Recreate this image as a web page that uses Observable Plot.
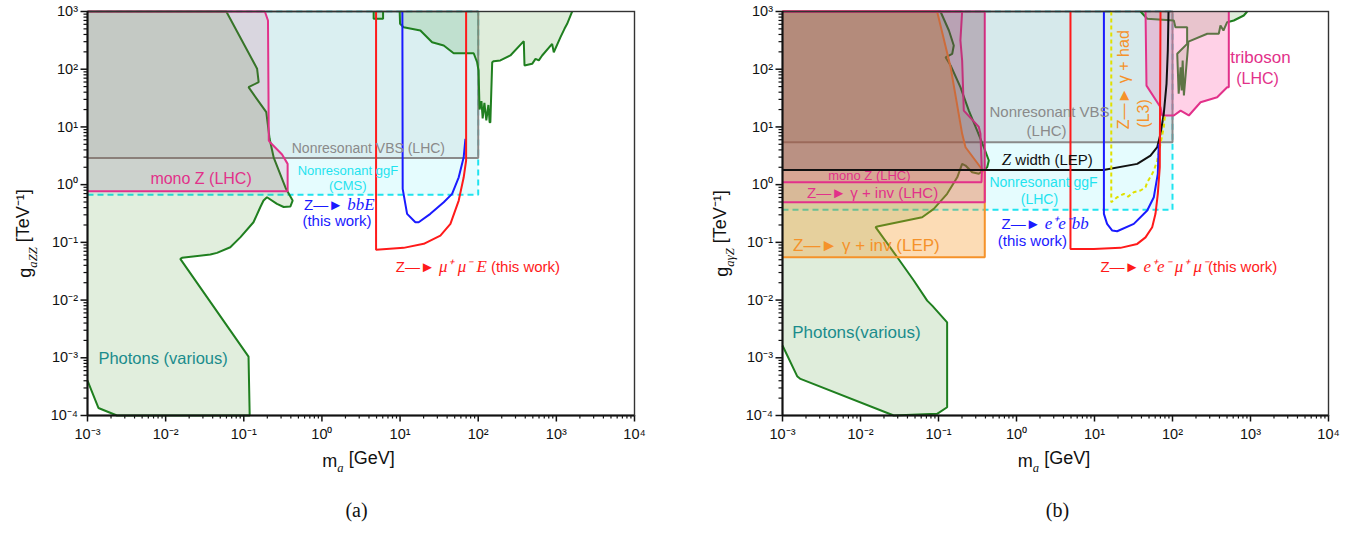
<!DOCTYPE html>
<html><head><meta charset="utf-8">
<script src="https://cdn.jsdelivr.net/npm/d3@7"></script>
<script src="https://cdn.jsdelivr.net/npm/@observablehq/plot@0.6"></script>
<style>
body{margin:0;background:#fff;}
#wrap{display:flex;width:1363px;height:535px;overflow:hidden;}
</style></head><body><div id="wrap"></div>
<script>
// ---------- axis ticks ----------
const decadesX = [1e-3, 1e-2, 1e-1, 1, 10, 100, 1e3, 1e4];
const decadesY = [1e-4, 1e-3, 1e-2, 1e-1, 1, 10, 100, 1e3];

// ---------- panel (a) data : [m_a (GeV), g (TeV^-1)] ----------
const a_ggF = [[1e-3,0.665],[100,0.665],[100,1000],[1e-3,1000]];
const a_VBS = [[1e-3,2.9],[100,2.9],[100,1000],[1e-3,1000]];
const a_monoZ = [[1e-3,0.77],[0.364,0.77],[0.364,2.29],[0.309,3.33],[0.223,5.2],[0.209,5.8],[0.204,698],[0.186,1000],[1e-3,1000]];
const a_photons = [[1e-3,1000],[0.0597,1000],[0.148,102],[0.155,59.6],[0.115,48.8],[0.194,18.0],[0.214,6.22],[0.241,2.98],[0.347,0.846],[0.422,0.530],[0.394,0.417],[0.324,0.41],[0.266,0.465],[0.198,0.605],[0.179,0.53],[0.163,0.41],[0.133,0.223],[0.0902,0.122],[0.0672,0.0822],[0.0454,0.0658],[0.0373,0.0615],[0.0162,0.0539],[0.0154,0.0518],[0.115,0.00105],[0.119,1e-4],[0.00238,1e-4],[0.00138,0.000135],[1e-3,0.000403]];
const a_photonsBox = [[4.59,1000],[4.59,747],[6.06,747],[6.06,1000]];
const a_photonsHigh = [[9.88,1000],[10,612],[11.1,535],[18.2,469],[25.7,294],[36.2,258],[48.5,189],[87.5,189],[96.8,132],[101,95],[104,20],[110,28],[114,14],[120,26],[127,13],[135,24],[140,12],[143,12],[151,132],[158,138],[192,142],[258,173],[383,306],[391,116],[490,124],[541,151],[596,142],[658,173],[883,275],[927,197],[1130,359],[1270,501],[1375,612],[1548,912],[1592,1000]];
const a_mumuE = [[4.93,1000],[4.93,0.0741],[11.1,0.0803],[20.1,0.0942],[32.8,0.131],[44.1,0.209],[56.3,0.53],[65.2,1.34],[70,2.62],[70,1000]];
const a_bbE = [[10.7,1000],[10.8,0.846],[12.3,0.312],[15.7,0.223],[17.3,0.223],[24.4,0.312],[36.2,0.495],[46.3,0.693],[56.3,1.34],[65.2,2.98],[68.6,6.22]];

// ---------- panel (b) data ----------
const b_ggF = [[1e-3,0.366],[100,0.366],[100,1000],[1e-3,1000]];
const b_VBS = [[1e-3,5.43],[100,5.43],[100,1000],[1e-3,1000]];
const b_photons = [[1e-3,1000],[0.106,1000],[0.136,469],[0.157,258],[0.150,185],[0.123,161],[0.143,116],[0.191,48.8],[0.245,19.2],[0.313,8.66],[0.381,4.45],[0.442,2.62],[0.421,2.0],[0.329,1.54],[0.270,1.64],[0.222,2.14],[0.201,2.29],[0.174,1.34],[0.129,0.693],[0.087,0.381],[0.0618,0.272],[0.0164,0.188],[0.0156,0.183],[0.0296,0.0552],[0.0482,0.0218],[0.0716,0.0098],[0.083,0.008],[0.129,0.00412],[0.129,0.000139],[0.096,0.000107],[0.0267,1e-4],[0.0017,0.00043],[0.00154,0.00048],[1e-3,0.00163]];
const b_photonsHigh = [[38.9,1000],[47.4,749],[104,698],[109,535],[154,535],[154,275],[115,185],[120,37.5],[127,108],[131,42.7],[135,142],[140,35],[154,161],[160,300],[279,411],[392,411],[412,572],[450,469],[502,653],[611,698],[820,852],[908,1000]];
const b_invLEP = [[1e-3,0.0552],[0.392,0.0552],[0.392,1.64],[0.345,2.0],[0.222,4.45],[0.201,7.6],[0.143,108],[0.096,1000],[1e-3,1000]];
const b_widthLeft = [[1e-3,1.8],[0.392,1.8],[0.392,1000],[1e-3,1000]];
const b_invLHC = [[1e-3,0.496],[0.392,0.496],[0.392,1000],[1e-3,1000]];
const b_monoZ = [[1e-3,1.1],[0.356,1.1],[0.36,1.64],[0.345,7.6],[0.329,10.0],[0.211,19.2],[0.201,141],[0.191,316],[0.201,1000],[1e-3,1000]];
const b_triboson = [[45.1,1000],[46.4,52],[70.2,21.9],[73.8,15.8],[104,15.8],[127,19.2],[162,15.8],[229,26.8],[374,32.7],[502,48.8],[527,48.8],[527,1000]];
const b_Zwidth = [[1e-3,1.8],[13,1.8],[35.3,2.29],[52.2,3.19],[63.7,4.45],[70.2,7.6],[77.3,16.9],[83.8,55.8],[87.1,211],[88.9,1000]];
const b_L3had = [[16.4,1000],[16.4,0.496],[19.5,0.605],[23.8,0.693],[27,0.62],[31.9,0.74],[38.9,0.791],[45.1,0.902],[47.4,1.10],[54.9,1.54],[57.6,1.75],[63.7,2.62],[70.2,5.1],[77.3,9.9],[80,15.8]];
const b_eemumu = [[4.92,1000],[4.92,0.0771],[9.8,0.0771],[21.5,0.0803],[35.3,0.094],[45.1,0.122],[54.9,0.183],[60.5,0.312],[64.8,0.693],[68.7,2.0],[70.2,1000]];
const b_eebb = [[13.2,1000],[13.2,0.312],[14.5,0.209],[16.9,0.160],[19.5,0.156],[31.9,0.209],[47.4,0.356],[57.6,0.605],[64.8,1.54],[66.7,5.1]];

// ---------- colours ----------
const C = {cyan:"#1fe3ef", gray:"#8a8a8a", green:"#1f7f1f", greenFill:"#4f9a35", pink:"#e2318a",
  orange:"#f5922a", red:"#ff1a1a", blue:"#1a1aff", teal:"#1a8c8c", yellow:"#e0e000", black:"#111"};
const font = "Liberation Sans, Arial, Helvetica, sans-serif";
const serif = "Liberation Serif, Times New Roman, serif";

// ---------- labels (parts: [text, kind]; kind n=normal, i=italic, sub=subscript) ----------
const a_labels = [
  {x:3.93, y:4.22, p:[["Nonresonant VBS (LHC)","n"]], c:C.gray, s:14},
  {x:2.15, y:1.75, p:[["Nonresonant ggF","n"]], c:C.cyan, s:13},
  {x:2.14, y:0.965, p:[["(CMS)","n"]], c:C.cyan, s:13},
  {x:0.0284, y:1.28, p:[["mono Z (LHC)","n"]], c:C.pink, s:16},
  {x:1.67, y:0.434, p:[["Z—► ","n"],["bbE","i"]], c:C.blue, s:15},
  {x:1.56, y:0.229, p:[["(this work)","n"]], c:C.blue, s:15},
  {x:99.1, y:0.0366, p:[["Z—► ","n"],["μ⁺ μ⁻ E","i"],[" (this work)","n"]], c:C.red, s:15},
  {x:0.00138, y:0.00097, p:[["Photons (various)","n"]], c:C.teal, s:16.5, a:"start"}
];
const b_labels = [
  {x:2.65, y:18.0, p:[["Nonresonant VBS","n"]], c:C.gray, s:15},
  {x:2.43, y:8.32, p:[["(LHC)","n"]], c:C.gray, s:15},
  {x:2.48, y:2.62, p:[["Z","i"],[" width (LEP)","n"]], c:C.black, s:15},
  {x:2.22, y:1.10, p:[["Nonresonant ggF","n"]], c:C.cyan, s:14},
  {x:1.97, y:0.546, p:[["(LHC)","n"]], c:C.cyan, s:14},
  {x:2.33, y:0.209, p:[["Z—► ","n"],["e⁺e⁻bb","i"]], c:C.blue, s:15},
  {x:1.60, y:0.104, p:[["(this work)","n"]], c:C.blue, s:15},
  {x:162, y:0.037, p:[["Z—► ","n"],["e⁺e⁻ μ⁺ μ⁻","i"],["(this work)","n"]], c:C.red, s:15},
  {x:0.0130, y:1.44, p:[["mono Z (LHC)","n"]], c:C.pink, s:13},
  {x:0.0143, y:0.71, p:[["Z—► γ + inv (LHC)","n"]], c:C.pink, s:15},
  {x:0.0119, y:0.088, p:[["Z—► γ + inv (LEP)","n"]], c:C.orange, s:17},
  {x:0.00133, y:0.00277, p:[["Photons(various)","n"]], c:C.teal, s:17, a:"start"},
  {x:1340, y:161, p:[["triboson","n"]], c:C.pink, s:17},
  {x:1230, y:68.2, p:[["(LHC)","n"]], c:C.pink, s:16},
  {x:23.8, y:65.8, p:[["Z—► γ + had","n"]], c:C.orange, s:16, r:-90},
  {x:42.9, y:17.1, p:[["(L3)","n"]], c:C.orange, s:16, r:-90}
];

// ---------- helpers ----------
const supMap = {"-":"⁻","0":"⁰","1":"¹","2":"²","3":"³","4":"⁴"};
const sup = v => "10" + String(Math.round(Math.log10(v))).split("").map(ch => supMap[ch]).join("");
const minors = decs => decs.slice(0, -1).flatMap(d => [2,3,4,5,6,7,8,9].map(k => d * k));
let labelId = 0;
const richTexts = []; // [id, parts]

function region(pts, o) {
  return Plot.line(pts, {x: d => d[0], y: d => d[1], fill: o.fill ?? "none", fillOpacity: o.fo ?? 1,
    stroke: o.stroke ?? "none", strokeWidth: o.sw ?? 2, strokeDasharray: o.dash, strokeLinecap: "butt", strokeLinejoin: "miter"});
}
function rich(parts, opts) {
  const id = "rich-" + (labelId++);
  richTexts.push([id, parts]);
  return Plot.text([parts.map(p => p[0]).join("")], {text: d => d, ariaLabel: () => id, ...opts});
}
function labelMarks(labels) {
  return labels.map(l => l.p.length === 1
    ? Plot.text([l], {x: "x", y: "y", text: d => d.p[0][0], fill: l.c, fontSize: l.s, textAnchor: l.a ?? "middle", fontFamily: font, rotate: l.r ?? 0})
    : rich(l.p, {x: () => l.x, y: () => l.y, fill: l.c, fontSize: l.s, textAnchor: l.a ?? "middle", fontFamily: font, rotate: l.r ?? 0}));
}
function axisMarks() {
  return [
    Plot.axisX({ticks: minors(decadesX), anchor: "bottom", tickSize: 3.5, tickFormat: () => "", label: null, strokeWidth: 1.2}),
    Plot.axisX({ticks: decadesX, anchor: "bottom", tickSize: 6.5, tickPadding: 7, tickFormat: sup, label: null, strokeWidth: 1.5, fontSize: 14.5}),
    Plot.axisY({ticks: minors(decadesY), anchor: "left", tickSize: 3.5, tickFormat: () => "", label: null, strokeWidth: 1.2}),
    Plot.axisY({ticks: decadesY, anchor: "left", tickSize: 6.5, tickPadding: 3, tickFormat: sup, label: null, strokeWidth: 1.5, fontSize: 14.5}),
    Plot.frame({stroke: "#333", strokeWidth: 1.4}),
    Plot.ruleX([1e-3], {strokeWidth: 2, stroke: "#111"}),
    Plot.ruleY([1e-4], {strokeWidth: 2, stroke: "#111"})
  ];
}
function titleMarks(sub, letter, xo) {
  return [
    rich([["g","n"],[sub,"sub"],[" [TeV⁻¹]","n"]], {frameAnchor: "left", dx: xo.gx, dy: 20, rotate: -90, textAnchor: "middle", fontSize: 18, fontFamily: font, fill: "#111"}),
    rich([["m","n"],["a","sub"],[" [GeV]","n"]], {frameAnchor: "bottom", dx: xo.mx, dy: 51, textAnchor: "middle", fontSize: 18, fontFamily: font, fill: "#111"}),
    Plot.text([letter], {text: d => d, frameAnchor: "bottom", dx: xo.lx, dy: 101, textAnchor: "middle", fontSize: 20, fontFamily: serif, fill: "#111"})
  ];
}
function applyRich(svg) {
  const root = d3.select(svg);
  for (const [id, parts] of richTexts) {
    root.selectAll(`[aria-label="${id}"]`).each(function () {
      const t = d3.select(this);
      t.text(null);
      let shift = 0;
      for (const [str, kind] of parts) {
        const ts = t.append("tspan").text(str);
        const target = kind === "sub" ? 0.42 : 0;
        if (target !== shift) { ts.attr("dy", (target - shift) + "em"); shift = target; }
        if (kind === "i" || kind === "sub") ts.attr("font-family", serif).attr("font-style", "italic");
        if (kind === "i") ts.attr("font-size", "1.13em");
        if (kind === "sub") ts.attr("font-size", "0.7em");
      }
    });
  }
}
function makePlot(cfg) {
  const svg = Plot.plot({
    width: cfg.width, height: 535,
    marginLeft: cfg.ml, marginRight: cfg.mr, marginTop: 11, marginBottom: 120,
    x: {type: "log", domain: [1e-3, 1e4]},
    y: {type: "log", domain: [1e-4, 1e3]},
    style: {fontFamily: font, fontSize: "14px", color: "#111", background: "white", overflow: "visible"},
    marks: [...cfg.marks, ...axisMarks(), ...labelMarks(cfg.labels), ...titleMarks(cfg.sub, cfg.letter, cfg.xo)]
  });
  applyRich(svg);
  return svg;
}

const plotA = makePlot({
  width: 681, ml: 87, mr: 47, sub: "aZZ", letter: "(a)", xo: {gx: -62, mx: -2.5, lx: -4.5},
  labels: a_labels,
  marks: [
    region(a_ggF, {fill: "#00e1f5", fo: 0.1, stroke: C.cyan, dash: "6,4"}),
    region(a_VBS, {fill: "#7f7f7f", fo: 0.1, stroke: C.gray}),
    region(a_photons, {fill: C.greenFill, fo: 0.17, stroke: C.green}),
    region(a_photonsHigh, {fill: C.greenFill, fo: 0.18, stroke: C.green}),
    region(a_photonsBox, {fill: C.greenFill, fo: 0.18, stroke: C.green}),
    region(a_monoZ, {fill: "#d83070", fo: 0.13, stroke: C.pink}),
    region(a_bbE, {stroke: C.blue}),
    region(a_mumuE, {stroke: C.red})
  ]
});
const plotB = makePlot({
  width: 682, ml: 101, mr: 35, sub: "aγZ", letter: "(b)", xo: {gx: -60, mx: -1.5, lx: 2},
  labels: b_labels,
  marks: [
    region(b_ggF, {fill: "#00e1f5", fo: 0.1, stroke: C.cyan, dash: "6,4"}),
    region(b_VBS, {fill: "#7f7f7f", fo: 0.15, stroke: C.gray}),
    region(b_photons, {fill: C.greenFill, fo: 0.18, stroke: C.green}),
    region(b_photonsHigh, {fill: C.greenFill, fo: 0.18, stroke: C.green}),
    region(b_invLEP, {fill: "#f7941d", fo: 0.33, stroke: C.orange}),
    region(b_invLHC, {fill: "#e0207f", fo: 0.12, stroke: C.pink}),
    region(b_monoZ, {fill: "#e0207f", fo: 0.12, stroke: C.pink}),
    region(b_widthLeft, {fill: "#3d3a3a", fo: 0.19}),
    region(b_triboson, {fill: "#ff5aaa", fo: 0.28, stroke: C.pink}),
    region(b_Zwidth, {stroke: C.black}),
    region(b_L3had, {stroke: C.yellow, dash: "4,3"}),
    region(b_eebb, {stroke: C.blue}),
    region(b_eemumu, {stroke: C.red})
  ]
});
document.getElementById("wrap").append(plotA, plotB);
</script></body></html>
